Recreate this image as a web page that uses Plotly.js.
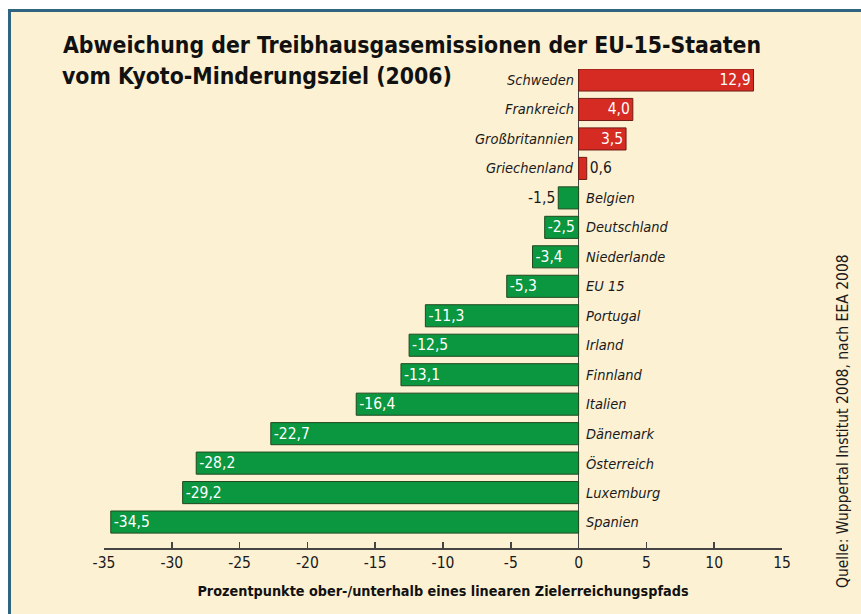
<!DOCTYPE html>
<html>
<head>
<meta charset="utf-8">
<script src="https://cdn.plot.ly/plotly-3.0.1.min.js"></script>
<style>
  html, body { margin: 0; padding: 0; background: #ffffff; width: 861px; height: 614px; overflow: hidden; }
  #frame { position: absolute; left: 8px; top: 9px; width: 853px; height: 605px; box-sizing: border-box;
           border-top: 3px solid #2f6580; border-left: 3px solid #2f6580; background: #fdf1d4; }
  #chart { position: absolute; left: 11px; top: 12px; width: 850px; height: 602px; }
</style>
</head>
<body>
<div id="frame"></div>
<div id="chart"></div>
<script>
const categories = ['Schweden','Frankreich','Großbritannien','Griechenland','Belgien','Deutschland','Niederlande','EU 15','Portugal','Irland','Finnland','Italien','Dänemark','Österreich','Luxemburg','Spanien'];
const values = [12.9, 4.0, 3.5, 0.6, -1.5, -2.5, -3.4, -5.3, -11.3, -12.5, -13.1, -16.4, -22.7, -28.2, -29.2, -34.5];
const tickValues = [-35, -30, -25, -20, -15, -10, -5, 0, 5, 10, 15];
const tickLabels = ['-35', '-30', '-25', '-20', '-15', '-10', '-5', '0', '5', '10', '15'];
const titleLine1 = 'Abweichung der Treibhausgasemissionen der EU-15-Staaten';
const titleLine2 = 'vom Kyoto-Minderungsziel (2006)';
const xTitle = 'Prozentpunkte ober-/unterhalb eines linearen Zielerreichungspfads';
const sourceText = 'Quelle: Wuppertal Institut 2008, nach EEA 2008';

const FONT = '"DejaVu Sans Condensed", "DejaVu Sans", sans-serif';
const RED = '#d62b22', RED_LINE = '#6e1d16';
const GREEN = '#0b9640', GREEN_LINE = '#21491f';

const valueText = values.map(v => v.toFixed(1).replace('.', ','));
const textPos = values.map(v => Math.abs(v) < 2 ? 'outside' : 'inside');

const trace = {
  type: 'bar',
  orientation: 'h',
  x: values,
  y: categories,
  marker: {
    color: values.map(v => v >= 0 ? RED : GREEN),
    line: { color: values.map(v => v >= 0 ? RED_LINE : GREEN_LINE), width: 1 }
  },
  text: valueText,
  textposition: textPos,
  insidetextanchor: 'end',
  insidetextfont: { family: FONT, size: 15.5, color: '#ffffff' },
  outsidetextfont: { family: FONT, size: 15.5, color: '#1a1a1a' },
  constraintext: 'none',
  cliponaxis: false,
  hoverinfo: 'skip'
};

const annotations = categories.map((c, i) => ({
  x: 0, y: c, xref: 'x', yref: 'y',
  text: c,
  showarrow: false,
  xanchor: values[i] >= 0 ? 'right' : 'left',
  xshift: values[i] >= 0 ? -3 : 5,
  font: { family: FONT, size: 14.5, color: '#1a1a1a', style: 'italic' }
}));

annotations.push({
  x: -0.0605, y: 0.9864, xref: 'paper', yref: 'paper',
  text: titleLine2, showarrow: false,
  xanchor: 'left', yanchor: 'middle', xshift: -3,
  font: { family: FONT, size: 22.8, color: '#111111', weight: 'bold' }
});

annotations.push({
  x: 1.09, y: 0.265, xref: 'paper', yref: 'paper',
  text: sourceText, textangle: -90, showarrow: false,
  xanchor: 'center', yanchor: 'middle',
  font: { family: FONT, size: 15.5, color: '#1a1a1a' }
});

const layout = {
  width: 850, height: 602,
  margin: { l: 93, r: 79, t: 57, b: 66 },
  paper_bgcolor: 'rgba(0,0,0,0)',
  plot_bgcolor: 'rgba(0,0,0,0)',
  showlegend: false,
  bargap: 0.25,
  title: {
    text: titleLine1,
    xref: 'container', yref: 'container',
    x: 52 / 850, xanchor: 'left',
    y: 1 - 33.5 / 602, yanchor: 'middle',
    font: { family: FONT, size: 22.8, color: '#111111', weight: 'bold' }
  },
  xaxis: {
    range: [-35, 15],
    tickvals: tickValues,
    ticktext: tickLabels,
    ticks: 'inside', ticklen: 6, tickwidth: 1.5, tickcolor: '#444444',
    showline: true, linecolor: '#444444', linewidth: 1.5,
    showgrid: false,
    zeroline: true, zerolinecolor: '#444444', zerolinewidth: 1.5,
    tickfont: { family: FONT, size: 15.5, color: '#1a1a1a' },
    title: { text: xTitle, font: { family: FONT, size: 14.3, color: '#111111', weight: 'bold' }, standoff: 15 },
    fixedrange: true
  },
  yaxis: {
    type: 'category',
    range: [15.88, -0.373],
    showticklabels: false,
    ticks: '',
    showgrid: false, zeroline: false, showline: false,
    fixedrange: true
  },
  annotations: annotations
};

Plotly.newPlot('chart', [trace], layout, { displayModeBar: false, staticPlot: true });
</script>
</body>
</html>
